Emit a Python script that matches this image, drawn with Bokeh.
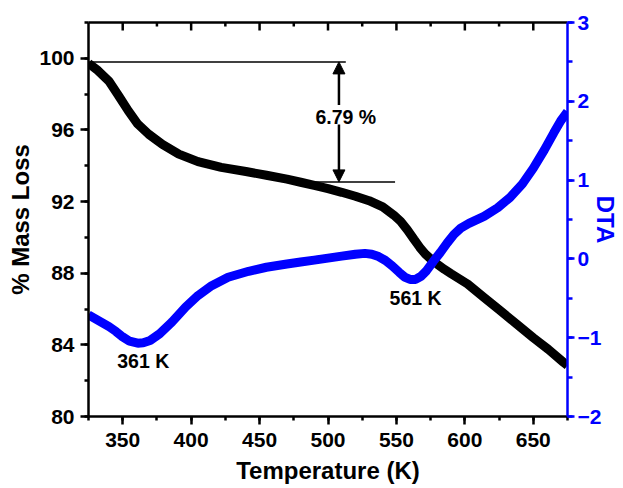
from bokeh.plotting import figure
from bokeh.models import (Range1d, LinearAxis, SingleIntervalTicker, Arrow, NormalHead,
                          ColumnDataSource, Label)
from bokeh.embed import file_html
from bokeh.resources import INLINE

# ---- data ----
temp_mass = [325, 332, 340, 347, 354, 361, 369, 379, 391, 405, 422, 440, 455, 470, 480,
             490, 500, 510, 520, 530, 540, 548, 553, 558, 563, 567, 571, 575, 580, 585,
             590, 602, 614, 626, 638, 650, 661, 672, 675]
mass = [99.72, 99.31, 98.72, 97.91, 97.08, 96.33, 95.76, 95.2, 94.65, 94.23, 93.91, 93.68,
        93.47, 93.25, 93.08, 92.9, 92.72, 92.52, 92.3, 92.05, 91.7, 91.25, 90.9, 90.42,
        89.88, 89.45, 89.08, 88.8, 88.5, 88.22, 87.97, 87.4, 86.65, 85.9, 85.15, 84.4,
        83.75, 83.03, 82.85]

temp_dta = [325, 332, 340, 345, 350, 355, 361, 365, 370, 377, 386, 396, 405, 415, 427, 442,
            455, 470, 480, 490, 500, 510, 520, 527, 532, 537, 542, 547, 552, 556, 560, 564,
            568, 572, 577, 582, 587, 592, 597, 603, 614, 624, 633, 642, 650, 658, 665, 670,
            675]
dta = [-0.71, -0.78, -0.86, -0.92, -0.99, -1.045, -1.07, -1.065, -1.036, -0.95, -0.80,
       -0.61, -0.465, -0.34, -0.233, -0.157, -0.106, -0.065, -0.04, -0.015, 0.01, 0.035,
       0.06, 0.07, 0.06, 0.03, -0.02, -0.09, -0.17, -0.23, -0.26, -0.26, -0.22, -0.15,
       -0.03, 0.08, 0.2, 0.31, 0.39, 0.45, 0.54, 0.65, 0.78, 0.95, 1.15, 1.38, 1.6, 1.75,
       1.87]

# tick positions of the mirrored top axis
top_major = [350, 400, 450, 500, 550, 600, 650]
top_minor = [375, 425, 475, 525, 575, 625]

# annotation values
mass_start, mass_end = 99.8, 93.1
loss_label = "6.79 %"
peak_labels = ["361 K", "561 K"]
peak_x = [365, 564]
peak_y = [83.1, 86.6]

FONT = "Liberation Sans"
BLUE = "#0000FF"
X0, X1, Y0, Y1 = 325, 675, 80, 102
FRAME_H = 394  # 488 - 22 - 72

p = figure(width=623, height=488, output_backend="svg", toolbar_location=None,
           x_range=Range1d(X0, X1), y_range=Range1d(Y0, Y1),
           min_border_left=88, min_border_right=56, min_border_top=22, min_border_bottom=72)
p.outline_line_color = None
p.xgrid.visible = False
p.ygrid.visible = False
p.extra_y_ranges = {"dta": Range1d(-2, 3)}

def style_axis(ax, color="black"):
    ax.axis_line_width = 2.5
    ax.axis_line_color = color
    ax.major_tick_line_color = color
    ax.minor_tick_line_color = color
    ax.major_tick_line_width = 2.5
    ax.minor_tick_line_width = 2.5
    ax.major_label_text_color = color
    ax.major_label_text_font = FONT
    ax.major_label_text_font_style = "bold"
    ax.major_label_text_font_size = "21px"
    ax.axis_label_text_color = color
    ax.axis_label_text_font = FONT
    ax.axis_label_text_font_style = "bold"
    ax.axis_label_text_font_size = "24px"
    ax.major_tick_out = 8
    ax.major_tick_in = 0
    ax.minor_tick_out = 4
    ax.minor_tick_in = 0

xa = p.xaxis[0]
xa.ticker = SingleIntervalTicker(interval=50, num_minor_ticks=2)
style_axis(xa)
xa.axis_label = "Temperature (K)"
xa.major_label_standoff = 8
xa.axis_label_standoff = 7

ya = p.yaxis[0]
ya.ticker = SingleIntervalTicker(interval=4, num_minor_ticks=2)
style_axis(ya)
ya.axis_label = "% Mass Loss"
ya.major_label_standoff = 6
ya.axis_label_standoff = 2

ra = LinearAxis(y_range_name="dta", ticker=SingleIntervalTicker(interval=1, num_minor_ticks=2))
style_axis(ra, BLUE)
ra.major_tick_out = 7
ra.minor_tick_out = 5
ra.major_label_standoff = 3
ra.axis_label = "DTA"
ra.axis_label_text_line_height = 1.0
ra.axis_label_standoff = -12
p.add_layout(ra, "right")

ta = LinearAxis(ticker=SingleIntervalTicker(interval=50, num_minor_ticks=2))
style_axis(ta)
ta.major_tick_out = 0
ta.minor_tick_out = 0
ta.major_label_text_font_size = "1px"
ta.major_label_text_color = None
ta.major_label_standoff = 0
p.add_layout(ta, "above")

# inward ticks on the top edge
px_to_y = (Y1 - Y0) / FRAME_H
p.segment(x0=top_major, y0=[Y1] * len(top_major), x1=top_major,
          y1=[Y1 - 8 * px_to_y] * len(top_major), line_color="black", line_width=2.5)
p.segment(x0=top_minor, y0=[Y1] * len(top_minor), x1=top_minor,
          y1=[Y1 - 4 * px_to_y] * len(top_minor), line_color="black", line_width=2.5)

# curves
p.line(temp_mass, mass, line_color="black", line_width=9)
p.line(temp_dta, dta, line_color=BLUE, line_width=9, y_range_name="dta")

# annotation lines
seg = ColumnDataSource(dict(x0=[325, 470], x1=[513, 549], y=[mass_start, mass_end]))
p.segment(x0="x0", y0="y", x1="x1", y1="y", source=seg, line_color="black", line_width=1.5)

arrow_x = 508
p.add_layout(Arrow(end=NormalHead(size=12, fill_color="black", line_color="black"),
                   x_start=arrow_x, y_start=97.4, x_end=arrow_x, y_end=mass_start,
                   line_width=2.5, line_color="black"))
p.add_layout(Arrow(end=NormalHead(size=12, fill_color="black", line_color="black"),
                   x_start=arrow_x, y_start=96.3, x_end=arrow_x, y_end=mass_end,
                   line_width=2.5, line_color="black"))

p.add_layout(Label(x=513, y=96.75, text=loss_label, text_align="center", text_baseline="middle",
                   text_font=FONT, text_font_style="bold", text_font_size="19.5px",
                   text_color="black"))
for t, x, y in zip(peak_labels, peak_x, peak_y):
    p.add_layout(Label(x=x, y=y, text=t, text_align="center", text_baseline="middle",
                       text_font=FONT, text_font_style="bold", text_font_size="19.5px",
                       text_color="black"))

open("out.html", "w").write(file_html(p, INLINE))
